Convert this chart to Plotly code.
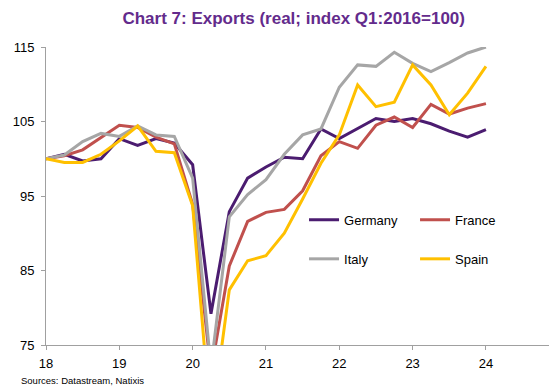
import plotly.graph_objects as go

# Quarterly data, 2018Q1 .. 2024Q1 (x in years: 18.00, 18.25, ...)
quarters = [18 + i * 0.25 for i in range(25)]

germany = [100.0, 100.6, 99.7, 100.0, 102.7, 101.8, 102.7, 102.1, 99.2,
           79.2, 92.9, 97.4, 98.9, 100.2, 100.0, 104.0, 102.7, 104.1,
           105.4, 105.0, 105.4, 104.7, 103.7, 102.9, 103.9]
france = [100.0, 100.4, 101.2, 102.9, 104.5, 104.2, 102.9, 102.0, 93.9,
          71.5, 85.6, 91.6, 92.8, 93.2, 95.7, 100.4, 102.3, 101.4,
          104.5, 105.6, 104.2, 107.3, 106.0, 106.8, 107.4]
italy = [100.0, 100.5, 102.3, 103.4, 103.0, 104.4, 103.2, 103.0, 97.4,
         72.0, 92.2, 95.2, 97.2, 100.6, 103.2, 104.0, 109.6, 112.6,
         112.4, 114.3, 112.8, 111.7, 112.9, 114.2, 115.0]
spain = [100.0, 99.5, 99.5, 100.6, 102.4, 104.4, 101.0, 100.8, 93.7,
         64.0, 82.4, 86.3, 87.0, 90.0, 94.6, 99.4, 103.2, 109.9,
         107.0, 107.6, 112.6, 109.9, 105.9, 108.8, 112.4]

tick_vals = [18, 19, 20, 21, 22, 23, 24]
tick_text = ["18", "19", "20", "21", "22", "23", "24"]
y_ticks = [75, 85, 95, 105, 115]

series = [
    ("Germany", germany, "#4B1C70", "legend"),
    ("France", france, "#C0504D", "legend"),
    ("Italy", italy, "#A6A6A6", "legend2"),
    ("Spain", spain, "#FFC000", "legend2"),
]

fig = go.Figure()
for name, vals, color, leg in series:
    fig.add_trace(go.Scatter(
        x=quarters, y=vals, mode="lines", name=name,
        line=dict(color=color, width=3), legend=leg,
    ))

FONT = "Arial, Liberation Sans, sans-serif"
axis_col = "#A0A0A0"

leg_common = dict(
    orientation="h", font=dict(family=FONT, size=13, color="#000000"),
    bgcolor="rgba(0,0,0,0)", entrywidth=66, entrywidthmode="pixels",
    xanchor="left", yanchor="middle", itemwidth=30, tracegroupgap=0,
)

fig.update_layout(
    width=549, height=388,
    margin=dict(l=46, r=0, t=47, b=43, autoexpand=False),
    paper_bgcolor="white", plot_bgcolor="white",
    font=dict(family=FONT, size=13, color="#000000"),
    title=dict(
        text="<b>Chart 7: Exports (real; index Q1:2016=100)</b>",
        font=dict(family=FONT, size=17, color="#632B8C"),
        x=0.535, xanchor="center", y=0.953, yanchor="middle",
    ),
    legend=dict(x=0.513, y=0.42, **leg_common),
    legend2=dict(x=0.513, y=0.289, **leg_common),
    xaxis=dict(
        range=[18, 24.86], tickvals=tick_vals, ticktext=tick_text,
        showgrid=False, zeroline=False, showline=True, linecolor=axis_col,
        linewidth=1, ticks="outside", ticklen=4, tickcolor=axis_col,
        tickfont=dict(family=FONT, size=13, color="#000000"),
        ticklabelstandoff=2, automargin=False,
    ),
    yaxis=dict(
        range=[75, 115], tickvals=y_ticks,
        showgrid=False, zeroline=False, showline=True, linecolor=axis_col,
        linewidth=1, ticks="outside", ticklen=4, tickcolor=axis_col,
        tickfont=dict(family=FONT, size=13, color="#000000"),
        ticklabelstandoff=4, automargin=False,
    ),
    showlegend=True,
)

fig.add_annotation(
    text="Sources: Datastream, Natixis", xref="paper", yref="paper",
    x=-27 / 503, y=-28 / 298, xanchor="left", yanchor="top", showarrow=False,
    font=dict(family=FONT, size=9.5, color="#000000"),
)

fig.write_html("out.html", config={"displayModeBar": False},
               post_script="document.body.style.margin='0';")
